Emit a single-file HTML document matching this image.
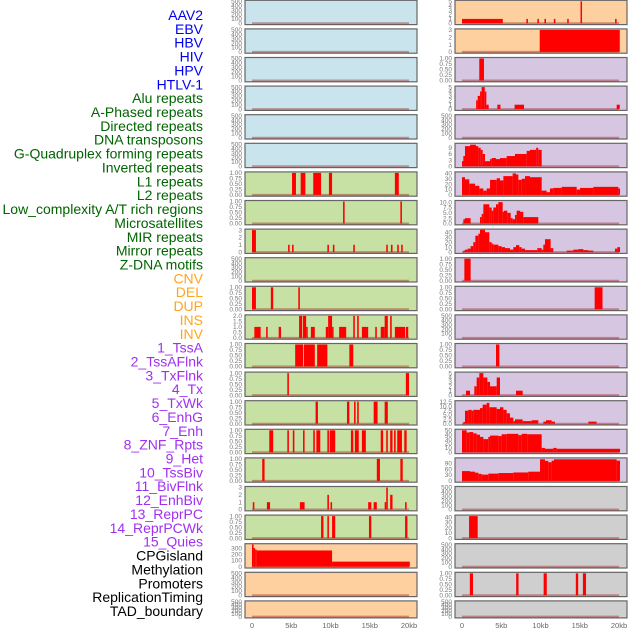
<!DOCTYPE html>
<html><head><meta charset="utf-8">
<style>
html,body{margin:0;padding:0;background:#fff;}
svg{display:block;font-family:"Liberation Sans",sans-serif;}
</style></head>
<body>
<svg id="chart" width="630" height="630" viewBox="0 0 630 630"></svg>
<script>
const trackLabels = ["AAV2","EBV","HBV","HIV","HPV","HTLV-1","Alu repeats","A-Phased repeats","Directed repeats","DNA transposons","G-Quadruplex forming repeats","Inverted repeats","L1 repeats","L2 repeats","Low_complexity A/T rich regions","Microsatellites","MIR repeats","Mirror repeats","Z-DNA motifs","CNV","DEL","DUP","INS","INV","1_TssA","2_TssAFlnk","3_TxFlnk","4_Tx","5_TxWk","6_EnhG","7_Enh","8_ZNF_Rpts","9_Het","10_TssBiv","11_BivFlnk","12_EnhBiv","13_ReprPC","14_ReprPCWk","15_Quies","CPGisland","Methylation","Promoters","ReplicationTiming","TAD_boundary"];
const labelColors = ["#0000ee","#0000ee","#0000ee","#0000ee","#0000ee","#0000ee","#006400","#006400","#006400","#006400","#006400","#006400","#006400","#006400","#006400","#006400","#006400","#006400","#006400","#ffa520","#ffa520","#ffa520","#ffa520","#ffa520","#a030f0","#a030f0","#a030f0","#a030f0","#a030f0","#a030f0","#a030f0","#a030f0","#a030f0","#a030f0","#a030f0","#a030f0","#a030f0","#a030f0","#a030f0","#000","#000","#000","#000","#000"];
const xTickValues = [0,5,10,15,20];
const xTickLabels = ["0","5kb","10kb","15kb","20kb"];

// left column segments [startKb, endKb, value]
const leftL1 = [[5.1,5.6,1],[6.2,6.8,1],[7.8,8.8,1],[9.8,10.2,1],[18.2,18.7,1]];
const leftL2 = [[11.6,11.8,1],[18.9,19.1,1]];
const leftLow = [[0,0.5,3],[4.6,4.8,1],[5.1,5.3,1],[9.6,9.8,1],[10.3,10.5,1],[12.9,13.1,1],[17.1,17.3,1],[17.7,17.9,1],[18.5,18.7,1],[19,19.2,1]];
const leftMIR = [[0,0.5,1],[2.4,2.7,1],[5.9,6.1,1]];
const leftMirror = [[0.3,1.1,1],[1.8,2.0,1],[3.4,3.7,1],[6.0,6.4,2],[6.5,6.9,2],[6.9,7.1,1],[7.5,8.0,1],[9.4,9.7,1],[9.7,10.2,2],[10.2,10.3,1],[11.1,12.0,1],[12.9,13.1,2],[13.4,13.6,2],[14.0,14.8,1],[15.7,15.9,1],[16.4,16.9,1],[16.9,17.3,2],[17.6,17.8,2],[18.2,19.5,1],[19.6,19.9,1]];
const leftDEL = [[5.5,6.5,1],[6.6,8.0,1],[8.3,9.6,1],[12.4,12.9,1]];
const leftDUP = [[4.5,4.7,1],[19.6,20.0,1]];
const leftINS = [[8.1,8.4,1],[12.1,12.4,1],[13.0,13.2,1],[13.4,13.6,1],[15.5,16.0,1],[16.9,17.3,1]];
const leftINV = [[2.2,2.7,1],[4.5,4.7,1],[5.2,5.4,1],[6.5,6.7,1],[7.8,8.0,1],[8.2,8.7,1],[9.6,9.8,1],[9.9,10.6,1],[12.6,12.9,1],[13.1,13.6,1],[14.0,14.5,1],[16.4,16.7,1],[17.1,17.3,1],[17.6,17.9,1],[18.1,18.3,1],[18.5,19.1,1],[19.4,19.7,1]];
const leftTssA = [[1.3,1.6,1],[15.9,16.3,1],[18.9,19.2,1]];
const leftTssAFlnk = [[0.1,0.3,1],[1.9,2.3,1],[6.1,6.7,1],[9.6,9.8,2],[10.0,10.2,1],[14.8,15.2,1],[15.5,15.9,1],[17.1,17.3,3],[16.9,17.1,1],[17.6,17.9,2],[19.5,19.7,1]];
const leftTxFlnk = [[8.8,9.1,1],[9.6,9.8,1],[10.2,10.6,1],[14.9,15.2,1],[19.5,19.8,1]];
const leftCPG = [[0,0.2,360],[0.2,0.4,300],[0.4,0.6,275],[0.6,10.2,262],[10.2,20.1,82]];

// right column segments
const rightAAV2 = [[0,5.2,1],[8.2,8.4,1],[9.6,9.8,1],[10.5,10.7,1],[11.7,11.9,1],[13.4,13.6,1],[15.1,15.25,5],[19.5,19.7,1]];
const rightEBV = [[9.9,20.1,3]];
const rightHIV = [[2.2,2.8,1]];
const rightHPV = [[1.8,2.0,2],[2.0,2.3,3],[2.3,2.5,4],[2.5,2.9,5],[2.9,3.1,4],[3.1,3.4,1],[4.5,4.9,1],[6.7,7.9,1],[19.7,20.1,1]];
const rightGQuad = [[0,0.17,2.5],[0.17,0.38,5],[0.38,1.02,9.8],[1.02,1.78,10.5],[1.78,2.08,9.8],[2.08,2.38,9],[2.38,2.63,8],[2.63,2.93,6],[2.93,3.57,2.5],[3.57,3.78,3.5],[3.78,4.33,4],[4.33,4.84,3.5],[4.84,5.69,4],[5.69,6.75,5],[6.75,8.24,6],[8.24,8.66,7.5],[8.66,9.45,8],[9.45,9.72,9],[9.72,10.15,8]];
const rightL1 = [[0,0.38,33],[0.38,0.93,29],[0.93,1.66,21],[1.66,2.21,17],[2.21,2.72,12],[2.72,3.14,8],[3.14,3.57,12],[3.57,4.42,28],[4.42,4.84,31],[4.84,5.27,27],[5.27,6.45,35],[6.45,6.88,40],[6.88,7.18,38],[7.18,7.60,28],[7.60,8.03,30],[8.03,8.66,35],[8.66,10.15,33],[10.15,10.78,8],[10.78,11.21,5],[11.21,11.63,12],[11.63,12.69,13],[12.69,14.61,15],[14.61,15.03,10],[15.03,16.73,13],[16.73,19.92,15],[19.92,20.13,12]];
const rightLow = [[0.17,0.38,2],[0.38,1.10,2.5],[2.29,2.51,3],[2.51,2.72,4.5],[2.72,3.48,9],[3.48,3.78,7.5],[3.78,3.99,6],[3.99,4.33,7.5],[4.33,4.63,9],[4.63,5.18,10],[5.18,5.35,5.5],[5.35,5.77,6],[5.77,6.20,5],[6.20,6.45,2.5],[6.45,6.75,2],[6.75,6.96,4],[6.96,7.39,6],[7.39,7.81,5.5],[7.81,9.72,3]];
const rightMIR = [[0.17,0.38,3],[0.38,0.72,5],[0.72,1.10,7],[1.10,1.44,12],[1.44,1.70,20],[1.70,2.08,33],[2.08,2.29,37],[2.29,2.93,45],[2.93,3.48,40],[3.48,3.78,20],[3.78,3.99,17],[3.99,4.63,15],[4.63,5.05,12],[5.05,5.48,10],[5.48,6.11,8],[6.11,6.54,5],[6.54,6.88,10],[6.88,7.30,14],[7.30,7.60,10],[7.60,8.03,7],[8.03,9.59,4],[9.59,10.15,8],[10.15,10.36,5],[10.36,10.57,15],[10.57,11.29,26],[11.29,11.63,8],[13.33,14.18,3],[14.18,14.82,5],[14.82,15.46,6],[15.46,16.10,4],[16.10,16.73,3],[19.49,19.79,7],[19.79,20.13,10]];
const rightZDNA = [[0.3,1.1,1]];
const rightCNV = [[16.9,17.9,1]];
const rightDUP = [[4.33,4.76,1]];
const rightINS = [[0.51,1.02,1],[1.57,1.87,2],[1.87,2.21,4],[2.21,2.72,5],[2.72,2.93,4],[2.93,3.23,4],[3.23,3.57,3],[3.57,4.42,2],[4.42,4.84,4],[6.88,7.73,1]];
const rightINV = [[0.17,0.38,1],[0.38,0.81,7.5],[0.81,1.23,8],[1.23,1.44,7.5],[1.44,2.29,8],[2.29,2.63,9],[2.63,3.14,11],[3.14,3.48,12],[3.48,4.42,9.5],[4.42,4.84,8.5],[4.84,5.27,9.5],[5.27,5.69,8],[5.69,6.11,6],[6.11,6.54,3.5],[6.54,6.75,1.5],[6.75,7.73,2.5],[7.73,8.87,1.5],[8.87,9.72,2],[10.36,10.70,1.2],[10.70,11.42,2],[11.42,11.84,1.2],[16.10,17.15,1.2]];
const rightTssA = [[0,0.59,50],[0.59,0.93,45],[0.93,1.44,46],[1.44,1.87,43],[1.87,2.29,40],[2.29,2.72,35],[2.72,3.35,30],[3.35,3.57,35],[3.57,4.63,38],[4.63,5.05,37],[5.05,5.69,41],[5.69,7.18,42],[7.18,7.60,39],[7.60,8.32,42],[8.32,10.15,41],[10.15,10.57,10],[10.57,11.63,8],[11.63,12.06,10],[12.06,20.13,8]];
const rightTssAFlnk = [[0,1.02,50],[1.02,1.66,47],[1.66,2.08,42],[2.08,2.51,36],[2.51,3.35,32],[3.35,4.63,37],[4.63,6.54,40],[6.54,8.45,43],[8.45,9.94,47],[9.94,10.57,110],[10.57,10.99,102],[10.99,11.42,95],[11.42,11.72,103],[11.72,19.70,110],[19.70,20.13,103]];
const rightTx = [[0.9,2.0,42]];
const rightEnhG = [[1.0,1.4,1],[6.9,7.2,1],[10.4,10.8,1],[14.5,14.8,1],[15.4,15.8,1]];

const ticksEmpty = [0,100,200,300,400,500];
const ticksOne = [0,0.25,0.5,0.75,1];
const ticks3 = [0,1,2,3];
const ticks5 = [0,1,2,3,4,5];

const leftPanels = [
 {d:[],bg:"#c9e4ec",max:500,t:ticksEmpty,dec:0,n:"aav2"},
 {d:[],bg:"#c9e4ec",max:500,t:ticksEmpty,dec:0,n:"ebv"},
 {d:[],bg:"#c9e4ec",max:500,t:ticksEmpty,dec:0,n:"hbv"},
 {d:[],bg:"#c9e4ec",max:500,t:ticksEmpty,dec:0,n:"hiv"},
 {d:[],bg:"#c9e4ec",max:500,t:ticksEmpty,dec:0,n:"hpv"},
 {d:[],bg:"#c9e4ec",max:500,t:ticksEmpty,dec:0,n:"htlv"},
 {d:leftL1,bg:"#c7e0a3",max:1,t:ticksOne,dec:2,n:"alu"},
 {d:leftL2,bg:"#c7e0a3",max:1,t:ticksOne,dec:2,n:"a-phased"},
 {d:leftLow,bg:"#c7e0a3",max:3,t:ticks3,dec:0,n:"directed"},
 {d:[],bg:"#c7e0a3",max:500,t:ticksEmpty,dec:0,n:"dna-transposons"},
 {d:leftMIR,bg:"#c7e0a3",max:1,t:ticksOne,dec:2,n:"g-quad"},
 {d:leftMirror,bg:"#c7e0a3",max:2,t:[0,0.5,1,1.5,2],dec:1,n:"inverted"},
 {d:leftDEL,bg:"#c7e0a3",max:1,t:ticksOne,dec:2,n:"l1"},
 {d:leftDUP,bg:"#c7e0a3",max:1,t:ticksOne,dec:2,n:"l2"},
 {d:leftINS,bg:"#c7e0a3",max:1,t:ticksOne,dec:2,n:"low-complexity"},
 {d:leftINV,bg:"#c7e0a3",max:1,t:ticksOne,dec:2,n:"microsatellites"},
 {d:leftTssA,bg:"#c7e0a3",max:1,t:ticksOne,dec:2,n:"mir"},
 {d:leftTssAFlnk,bg:"#c7e0a3",max:3,t:ticks3,dec:0,n:"mirror"},
 {d:leftTxFlnk,bg:"#c7e0a3",max:1,t:ticksOne,dec:2,n:"z-dna"},
 {d:leftCPG,bg:"#ffd09f",max:355,t:[0,100,200,300],dec:0,n:"cpg"},
 {d:[],bg:"#ffd09f",max:500,t:ticksEmpty,dec:0,n:"methylation"},
 {d:[],bg:"#ffd09f",max:500,t:ticksEmpty,dec:0,n:"promoters"}
];
const rightPanels = [
 {d:rightAAV2,bg:"#ffd09f",max:5,t:ticks5,dec:0,n:"aav2"},
 {d:rightEBV,bg:"#ffd09f",max:3,t:ticks3,dec:0,n:"ebv"},
 {d:rightHIV,bg:"#d6c6e2",max:1,t:ticksOne,dec:2,n:"hiv"},
 {d:rightHPV,bg:"#d6c6e2",max:5,t:ticks5,dec:0,n:"hpv"},
 {d:[],bg:"#d6c6e2",max:500,t:ticksEmpty,dec:0,n:"htlv"},
 {d:rightGQuad,bg:"#d6c6e2",max:10.7,t:[0,3,6,9],dec:0,n:"g-quad"},
 {d:rightL1,bg:"#d6c6e2",max:41,t:[0,10,20,30,40],dec:0,n:"l1"},
 {d:rightLow,bg:"#d6c6e2",max:10.3,t:[0,2.5,5,7.5,10],dec:1,n:"low-complexity"},
 {d:rightMIR,bg:"#d6c6e2",max:44.3,t:[0,10,20,30,40],dec:0,n:"mir"},
 {d:rightZDNA,bg:"#d6c6e2",max:1,t:ticksOne,dec:2,n:"z-dna"},
 {d:rightCNV,bg:"#d6c6e2",max:1,t:ticksOne,dec:2,n:"cnv"},
 {d:[],bg:"#d6c6e2",max:500,t:ticksEmpty,dec:0,n:"del"},
 {d:rightDUP,bg:"#d6c6e2",max:1,t:ticksOne,dec:2,n:"dup"},
 {d:rightINS,bg:"#d6c6e2",max:5,t:ticks5,dec:0,n:"ins"},
 {d:rightINV,bg:"#d6c6e2",max:12.7,t:[0,2.5,5,7.5,10,12.5],dec:1,n:"inv"},
 {d:rightTssA,bg:"#d6c6e2",max:50,t:[0,10,20,30,40,50],dec:0,n:"tssa"},
 {d:rightTssAFlnk,bg:"#d6c6e2",max:112,t:[0,30,60,90],dec:0,n:"tssaflnk"},
 {d:[],bg:"#cfcfcf",max:500,t:ticksEmpty,dec:0,n:"txflnk"},
 {d:rightTx,bg:"#cfcfcf",max:42,t:[0,10,20,30,40],dec:0,n:"tx"},
 {d:[],bg:"#cfcfcf",max:500,t:ticksEmpty,dec:0,n:"txwk"},
 {d:rightEnhG,bg:"#cfcfcf",max:1,t:ticksOne,dec:2,n:"enhg"},
 {d:[],bg:"#cfcfcf",max:500,t:ticksEmpty,dec:0,n:"enh"}
];

const NS = "http://www.w3.org/2000/svg";
const svg = document.getElementById("chart");
function mk(tag, attrs, parent){
  const e = document.createElementNS(NS, tag);
  for (const k in attrs) e.setAttribute(k, attrs[k]);
  (parent||svg).appendChild(e);
  return e;
}
const KB = 7.85;
function xScale(col, kb){ return (col===0 ? 252 : 462) + kb*KB; }
const boxX = [245, 455], boxW = 172;
function rowTop(i){ return 0.3 + i*28.6; }
function rowH(i){ return i===21 ? 17 : 24.3; }

// labels
trackLabels.forEach((s,i)=>{
  const t = mk("text",{x:203,y:15+i*13.86+5,"text-anchor":"end","font-size":"14",fill:labelColors[i]});
  t.textContent = s;
  
  
});

function drawPanel(col, i, p){
  const g = mk("g",{});
  
  
  const top = rowTop(i), h = rowH(i);
  const y0 = top + h - 1.3, y1 = top + 1;
  const yS = v => y0 - (v/p.max)*(y0-y1);
  mk("rect",{x:boxX[col],y:top,width:boxW,height:h,fill:p.bg,stroke:"#666","stroke-width":1.2},g);
  p.t.forEach(v=>{
    const tx = mk("text",{x:boxX[col]-3,y:yS(v)+2.2,"text-anchor":"end","font-size":"6.5",fill:"#777"},g);
    tx.textContent = v.toFixed(p.dec);
    
    
  });
  mk("line",{x1:xScale(col,0),x2:xScale(col,20),y1:y0,y2:y0,stroke:"rgba(150,20,20,0.4)","stroke-width":2},g);
  p.d.forEach(s=>{
    const a = xScale(col,s[0]), b = xScale(col,s[1]);
    const r = mk("rect",{x:a,y:yS(s[2]),width:Math.max(1.5,b-a),height:y0-yS(s[2]),fill:"#ff0000"},g);
    
    
  });
}
leftPanels.forEach((p,i)=>drawPanel(0,i,p));
rightPanels.forEach((p,i)=>drawPanel(1,i,p));

[0,1].forEach(col=>{
  xTickValues.forEach((v,j)=>{
    const t = mk("text",{x:xScale(col,v),y:628,"text-anchor":"middle","font-size":"7.5",fill:"#666"});
    t.textContent = xTickLabels[j];
    
    
  });
});
</script>
</body></html>
